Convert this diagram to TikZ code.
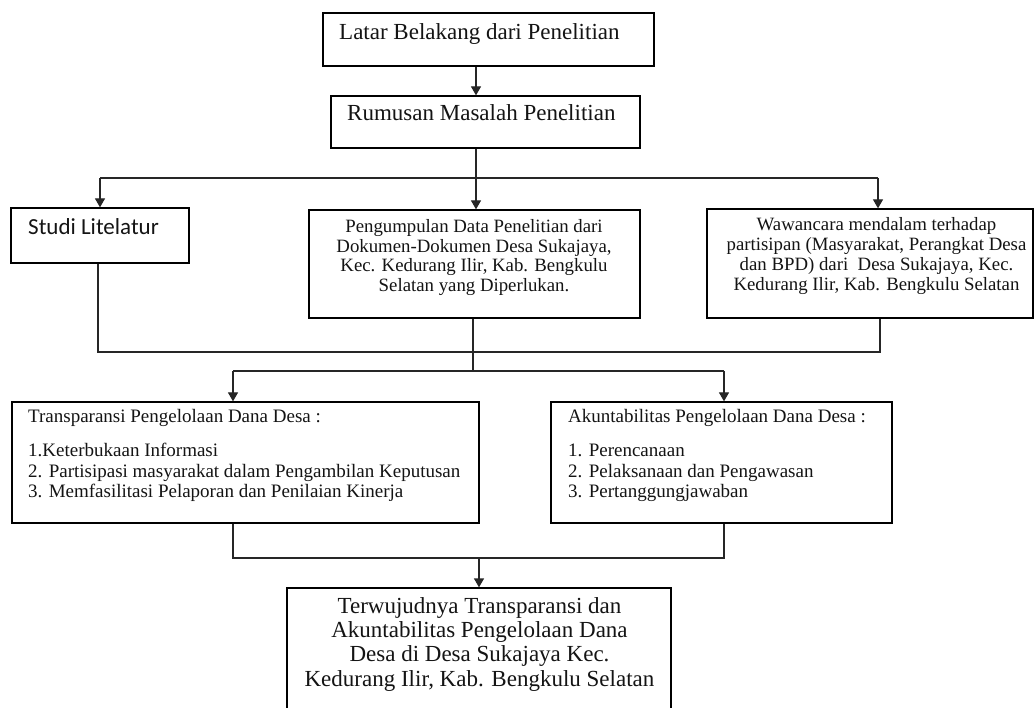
\documentclass[tikz,border=0pt]{standalone}
\usepackage{fontspec}
\setmainfont{Liberation Serif}
\newfontfamily\calfont{Carlito}
\usetikzlibrary{arrows.meta,calc}
\tikzset{
  box/.style={draw=black, line width=1.3pt, inner sep=0pt, fill=none},
  conn/.style={draw=black!85, line width=1.3pt},
  arr/.style={conn, -{Triangle[width=10pt,length=9pt]}},
  lbl/.style={inner sep=0pt, text=black!92},
}
\begin{document}
\begin{tikzpicture}[x=1pt,y=-1pt]
\clip (0,0) rectangle (1034,708);
\fill[white] (0,0) rectangle (1034,708);
% boxes
\node[box, minimum width=331pt, minimum height=53pt] (b1) at (488.5,39.5) {};
\node[box, minimum width=309pt, minimum height=52pt] (b2) at (485.5,122) {};
\node[box, minimum width=178pt, minimum height=55pt] (studi) at (100,235.5) {};
\node[box, minimum width=331pt, minimum height=108pt] (data) at (474.5,264) {};
\node[box, minimum width=326pt, minimum height=109pt] (wawan) at (870,263.5) {};
\node[box, minimum width=467pt, minimum height=121pt] (trans) at (245.5,462.5) {};
\node[box, minimum width=341pt, minimum height=121pt] (akun) at (721.5,462.5) {};
\node[box, minimum width=384pt, minimum height=126pt] (final) at (479,651) {};
% texts
\node[lbl, anchor=base west] (t1) at (339,40) {\fontsize{23}{25}\selectfont Latar Belakang dari Penelitian};
\node[lbl, anchor=base west] (t2) at (347,121) {\fontsize{23}{25}\selectfont Rumusan Masalah Penelitian};
\node[lbl, anchor=base west] (t3) at (28,235) {\calfont\fontsize{23}{25}\selectfont Studi Litelatur};
\node[lbl, anchor=base] (t4) at (474,232.3) {\fontsize{18.8}{19.8}\selectfont
  \begin{tabular}[t]{@{}c@{}}Pengumpulan Data Penelitian dari\\Dokumen-Dokumen Desa Sukajaya,\\Kec. Kedurang Ilir, Kab. Bengkulu\\Selatan yang Diperlukan.\end{tabular}};
\node[lbl, anchor=base] (t5) at (876.5,231) {\fontsize{18.8}{19.7}\selectfont
  \begin{tabular}[t]{@{}c@{}}Wawancara mendalam terhadap\\partisipan (Masyarakat, Perangkat Desa\\dan BPD) dari\ \ Desa Sukajaya, Kec.\\Kedurang Ilir, Kab. Bengkulu Selatan\end{tabular}};
\node[lbl, anchor=base west] (t6) at (28,422.7) {\fontsize{19}{20.5}\selectfont
  \begin{tabular}[t]{@{}l@{}}Transparansi Pengelolaan Dana Desa :\\[13.5pt]1.Keterbukaan Informasi\\2. Partisipasi masyarakat dalam Pengambilan Keputusan\\3. Memfasilitasi Pelaporan dan Penilaian Kinerja\end{tabular}};
\node[lbl, anchor=base west] (t7) at (568,422.7) {\fontsize{19}{20.5}\selectfont
  \begin{tabular}[t]{@{}l@{}}Akuntabilitas Pengelolaan Dana Desa :\\[13.5pt]1. Perencanaan\\2. Pelaksanaan dan Pengawasan\\3. Pertanggungjawaban\end{tabular}};
\node[lbl, anchor=base] (t8) at (479.5,613) {\fontsize{23}{24.4}\selectfont
  \begin{tabular}[t]{@{}c@{}}Terwujudnya Transparansi dan\\Akuntabilitas Pengelolaan Dana\\Desa di Desa Sukajaya Kec.\\Kedurang Ilir, Kab. Bengkulu Selatan\end{tabular}};
% junction coordinates
\coordinate (s1) at (476,178);
\coordinate (sL) at (100,178);
\coordinate (sR) at (878,178);
\coordinate (mL) at (98,352);
\coordinate (mM) at (473,352);
\coordinate (mR) at (880,352);
\coordinate (s2) at (473,371);
\coordinate (s2L) at (233,371);
\coordinate (s2R) at (724,371);
\coordinate (m2L) at (233,558);
\coordinate (m2M) at (479,558);
\coordinate (m2R) at (724,558);
% connectors
\draw[arr] (b1.south -| s1) -- (b2.north -| s1);
\draw[conn] (b2.south -| s1) -- (s1);
\draw[conn] (sL) -- (sR);
\draw[arr] (sL) -- (studi.north -| sL);
\draw[arr] (s1) -- (data.north -| s1);
\draw[arr] (sR) -- (wawan.north -| sR);
\draw[conn] (studi.south -| mL) -- (mL) -- (mR) -- (wawan.south -| mR);
\draw[conn] (data.south -| mM) -- (s2);
\draw[conn] (s2L) -- (s2R);
\draw[arr] (s2L) -- (trans.north -| s2L);
\draw[arr] (s2R) -- (akun.north -| s2R);
\draw[conn] (trans.south -| m2L) -- (m2L) -- (m2R) -- (akun.south -| m2R);
\draw[arr] (m2M) -- (final.north -| m2M);
\end{tikzpicture}
\end{document}
